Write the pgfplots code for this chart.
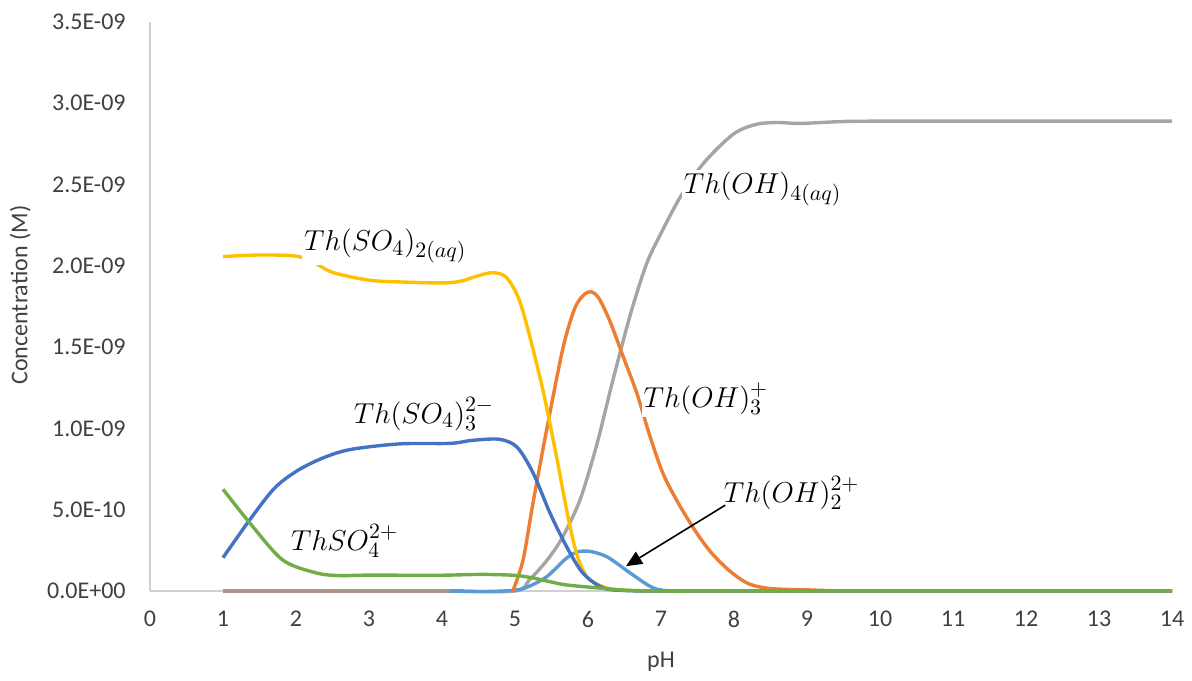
\documentclass[border=0pt]{standalone}
\usepackage{fontspec}
\setmainfont{Carlito}
\usepackage{pgfplots}
\pgfplotsset{compat=1.18}
\usetikzlibrary{arrows.meta,calc}

\definecolor{xlBlue}{HTML}{4472C4}
\definecolor{xlOrange}{HTML}{ED7D31}
\definecolor{xlGray}{HTML}{A5A5A5}
\definecolor{xlYellow}{HTML}{FFC000}
\definecolor{xlLight}{HTML}{5B9BD5}
\definecolor{xlGreen}{HTML}{70AD47}
\definecolor{xlBrown}{RGB}{168,150,140}
\definecolor{axgray}{HTML}{D0D0D0}
\definecolor{txt}{HTML}{404040}

\begin{document}
\begin{tikzpicture}
\begin{axis}[
    scale only axis,
    width=511pt, height=284.5pt,
    xmin=0, xmax=14, ymin=0, ymax=3.5,
    axis x line*=bottom, axis y line*=left,
    axis line style={axgray, line width=1pt, -},
    xtick={0,1,...,14},
    ytick={0,0.5,1,1.5,2,2.5,3,3.5},
    yticklabels={0.0E+00,5.0E-10,1.0E-09,1.5E-09,2.0E-09,2.5E-09,3.0E-09,3.5E-09},
    major tick length=0pt,
    tick style={draw=none},
    /pgf/number format/assume math mode=true,
    tick label style={font=\fontsize{12}{14}\selectfont, text=txt},
    xticklabel style={inner sep=0pt, anchor=north, yshift=-10pt},
    yticklabel style={inner sep=0pt, anchor=east, xshift=-12pt},
    xlabel={pH},
    ylabel={Concentration (M)},
    label style={font=\fontsize{12}{14}\selectfont, text=txt},
    xlabel style={at={(axis description cs:0.5,-0.125)}, anchor=center},
    ylabel style={at={(axis description cs:-0.127,0.52)}, anchor=center, rotate=0},
    every axis plot/.append style={line width=1.7pt, smooth, tension=0.5},
    clip=false,
]
% Th(OH)4(aq)
\addplot[xlGray] coordinates {
 (1,0) (2,0) (3,0) (4,0) (5,0) (5.2,0.07) (5.44,0.19) (5.65,0.33) (5.89,0.56)
 (6.12,0.9) (6.34,1.295) (6.58,1.7) (6.8,2.01) (7,2.2) (7.26,2.42)
 (7.58,2.63) (7.99,2.81) (8.3,2.87) (8.6,2.882) (8.9,2.876) (9.5,2.888)
 (10,2.89) (11,2.89) (12,2.89) (13,2.89) (14,2.89)};
% near-zero species
\addplot[xlBrown] coordinates {(1,0) (2,0) (3,0) (4,0) (4.3,0)};
% Th(OH)2 2+
\addplot[xlLight] coordinates {
 (4.1,0) (4.6,-0.003) (5,0.005) (5.2,0.03) (5.44,0.09) (5.7,0.2) (5.85,0.24)
 (6,0.245) (6.15,0.23) (6.3,0.2) (6.58,0.11) (6.9,0.018) (7.2,0) (8,0) (10,0) (14,0)};
% Th(OH)3 +
\addplot[xlOrange] coordinates {
 (4.97,0) (5.11,0.19) (5.25,0.55) (5.44,1.007) (5.66,1.5) (5.82,1.74)
 (5.95,1.825) (6.05,1.84) (6.15,1.8) (6.3,1.66) (6.5,1.42) (6.67,1.215) (6.85,0.95)
 (7.03,0.72) (7.25,0.53) (7.49,0.356) (7.7,0.23) (7.95,0.12) (8.2,0.045)
 (8.5,0.015) (9,0.007) (9.5,0) (10,0) (12,0) (14,0)};
% Th(SO4)2(aq)
\addplot[xlYellow] coordinates {
 (1,2.057) (1.5,2.067) (2,2.06) (2.25,2.02) (2.5,1.96) (3,1.912) (3.5,1.9)
 (4,1.895) (4.25,1.905) (4.5,1.94) (4.7,1.958) (4.88,1.93) (5.05,1.8) (5.2,1.57)
 (5.4,1.2) (5.58,0.8) (5.72,0.47) (5.85,0.22) (6,0.08) (6.25,0.02)
 (6.5,0.005) (7,0) (8,0) (10,0) (14,0)};
% Th(SO4)3 2-
\addplot[xlBlue] coordinates {
 (1,0.205) (1.37,0.44) (1.7,0.63) (2.0,0.735) (2.35,0.815) (2.74,0.87) (3.42,0.905)
 (4.11,0.908) (4.42,0.927) (4.79,0.933) (5.03,0.884) (5.25,0.724) (5.48,0.479)
 (5.71,0.27) (5.93,0.11) (6.2,0.02) (6.5,0.003) (7,0) (8,0) (10,0) (14,0)};
% ThSO4 2+
\addplot[xlGreen] coordinates {
 (1,0.626) (1.37,0.417) (1.82,0.19) (2.29,0.11) (2.6,0.095) (3,0.098)
 (3.5,0.097) (4,0.097) (4.5,0.102) (4.8,0.1) (5.03,0.095) (5.25,0.08)
 (5.5,0.055) (5.71,0.037) (6.16,0.018) (6.5,0.005) (7,0) (8,0) (10,0)
 (12,0) (14,0)};

\coordinate (sw) at (rel axis cs:0,0);
\coordinate (ne) at (rel axis cs:1,1);

\begin{scope}[every node/.style={fill=white, inner sep=1pt, anchor=base west, font=\fontsize{15}{17}\selectfont}]
\node at (axis cs:2.08,2.093) {$Th(SO_4)_{2(aq)}$};
\node at (axis cs:2.76,1.031) {$Th(SO_4)_3^{2-}$};
\node at (axis cs:1.90,0.252) {$ThSO_4^{2+}$};
\node at (axis cs:6.73,1.13) {$Th(OH)_3^{+}$};
\node at (axis cs:7.28,2.443) {$Th(OH)_{4(aq)}$};
\node[fill=none] at (axis cs:7.83,0.546) {$Th(OH)_2^{2+}$};
\end{scope}
\draw[-{Triangle[length=8pt,width=7pt]}, line width=0.8pt, black]
  (axis cs:7.88,0.528) -- (axis cs:6.52,0.153);
\end{axis}
\pgfresetboundingbox
\path ($(sw)+(-75pt,-44.5pt)$) rectangle ($(ne)+(10pt,11pt)$);
\end{tikzpicture}
\end{document}
